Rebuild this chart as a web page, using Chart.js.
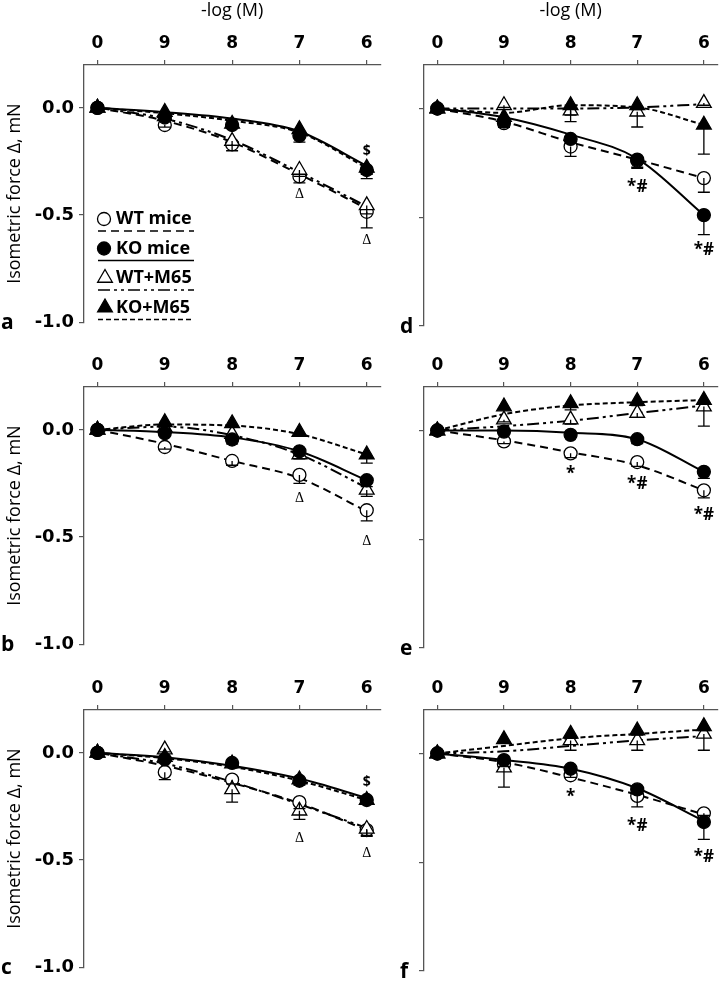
<!DOCTYPE html>
<html>
<head>
<meta charset="utf-8">
<script src="https://cdn.jsdelivr.net/npm/chart.js@4.4.1/dist/chart.umd.min.js"></script>
<style>
  body { margin: 0; background: #fff; width: 727px; height: 981px; position: relative; overflow: hidden; }
  canvas { position: absolute; }
</style>
</head>
<body>
<canvas id="pa" width="390" height="338" style="left:0;top:0"></canvas>
<canvas id="pd" width="337" height="338" style="left:390px;top:0"></canvas>
<canvas id="pb" width="390" height="338" style="left:0;top:322px"></canvas>
<canvas id="pe" width="337" height="338" style="left:390px;top:322px"></canvas>
<canvas id="pc" width="390" height="338" style="left:0;top:645px"></canvas>
<canvas id="pf" width="337" height="338" style="left:390px;top:645px"></canvas>
<script>
// x categories: 0 = baseline, then -log(M) 9..6
const concLabels = ['0', '9', '8', '7', '6'];
const seriesNames = ['WT mice', 'KO mice', 'WT+M65', 'KO+M65'];
const yTicks = [-1.0, -0.5, 0.0];

// panel a  (mean, SEM, fitted curve read at each concentration)
const a_wt      = [0, -0.08, -0.17, -0.32, -0.485];
const a_wt_sem  = [0, 0.01, 0.03, 0.03, 0.075];
const a_wt_fit  = [0, -0.06, -0.16, -0.31, -0.47];
const a_ko      = [0, -0.045, -0.08, -0.13, -0.29];
const a_ko_sem  = [0, 0.01, 0.015, 0.03, 0.04];
const a_ko_fit  = [0, -0.02, -0.05, -0.11, -0.27];
const a_wtm     = [0, -0.04, -0.155, -0.29, -0.455];
const a_wtm_sem = [0, 0.01, 0.02, 0.03, 0.04];
const a_wtm_fit = [0, -0.05, -0.15, -0.30, -0.46];
const a_kom     = [0, -0.02, -0.075, -0.10, -0.28];
const a_kom_sem = [0, 0.01, 0.01, 0.02, 0.03];
const a_kom_fit = [0, -0.025, -0.06, -0.115, -0.28];
const a_marks   = [[4, -0.20, '$'], [3, -0.405, 'Δ'], [4, -0.617, 'Δ']];

// panel b
const b_wt      = [0, -0.08, -0.145, -0.21, -0.375];
const b_wt_sem  = [0, 0.01, 0.02, 0.04, 0.05];
const b_wt_fit  = [0, -0.065, -0.145, -0.225, -0.38];
const b_ko      = [0, -0.015, -0.045, -0.10, -0.235];
const b_ko_sem  = [0, 0.01, 0.02, 0.02, 0.03];
const b_ko_fit  = [0, -0.01, -0.035, -0.10, -0.235];
const b_wtm     = [0, 0.01, -0.02, -0.115, -0.28];
const b_wtm_sem = [0, 0.01, 0.01, 0.02, 0.03];
const b_wtm_fit = [0, 0.015, -0.025, -0.115, -0.27];
const b_kom     = [0, 0.035, 0.03, -0.01, -0.115];
const b_kom_sem = [0, 0.01, 0.01, 0.02, 0.04];
const b_kom_fit = [0, 0.025, 0.02, -0.02, -0.115];
const b_marks   = [[3, -0.32, 'Δ'], [4, -0.52, 'Δ']];

// panel c
const c_wt      = [0, -0.09, -0.125, -0.23, -0.36];
const c_wt_sem  = [0, 0.035, 0.02, 0.03, 0.03];
const c_wt_fit  = [0, -0.06, -0.14, -0.235, -0.36];
const c_ko      = [0, -0.03, -0.047, -0.13, -0.22];
const c_ko_sem  = [0, 0.01, 0.01, 0.02, 0.02];
const c_ko_fit  = [0, -0.02, -0.06, -0.12, -0.21];
const c_wtm     = [0, 0.015, -0.17, -0.27, -0.355];
const c_wtm_sem = [0, 0.01, 0.06, 0.04, 0.03];
const c_wtm_fit = [0, -0.05, -0.135, -0.24, -0.35];
const c_kom     = [0, -0.02, -0.05, -0.125, -0.22];
const c_kom_sem = [0, 0.01, 0.01, 0.02, 0.02];
const c_kom_fit = [0, -0.025, -0.065, -0.13, -0.22];
const c_marks   = [[4, -0.137, '$'], [3, -0.40, 'Δ'], [4, -0.47, 'Δ']];

// panel d
const d_wt      = [0, -0.067, -0.175, -0.24, -0.32];
const d_wt_sem  = [0, 0.02, 0.045, 0.03, 0.065];
const d_wt_fit  = [0, -0.06, -0.155, -0.235, -0.32];
const d_ko      = [0, -0.06, -0.14, -0.235, -0.49];
const d_ko_sem  = [0, 0.02, 0.02, 0.04, 0.09];
const d_ko_fit  = [0, -0.04, -0.12, -0.23, -0.49];
const d_wtm     = [0, 0.015, -0.01, -0.015, 0.025];
const d_wtm_sem = [0, 0.01, 0.02, 0.07, 0.01];
const d_wtm_fit = [0, 0.0, 0.0, 0.005, 0.02];
const d_kom     = [0, -0.04, 0.015, 0.015, -0.075];
const d_kom_sem = [0, 0.01, 0.075, 0.02, 0.135];
const d_kom_fit = [0, -0.02, 0.015, 0.005, -0.075];
const d_marks   = [[3, -0.36, '*#'], [4, -0.65, '*#']];

// panel e
const e_wt      = [0, -0.05, -0.105, -0.145, -0.275];
const e_wt_sem  = [0, 0.01, 0.02, 0.02, 0.035];
const e_wt_fit  = [0, -0.045, -0.10, -0.16, -0.275];
const e_ko      = [0, -0.005, -0.02, -0.04, -0.19];
const e_ko_sem  = [0, 0.01, 0.01, 0.02, 0.03];
const e_ko_fit  = [0, 0.0, -0.01, -0.04, -0.19];
const e_wtm     = [0, 0.05, 0.05, 0.08, 0.11];
const e_wtm_sem = [0, 0.01, 0.02, 0.02, 0.09];
const e_wtm_fit = [0, 0.02, 0.045, 0.08, 0.115];
const e_kom     = [0, 0.11, 0.125, 0.135, 0.14];
const e_kom_sem = [0, 0.01, 0.03, 0.02, 0.02];
const e_kom_fit = [0, 0.075, 0.115, 0.13, 0.14];
const e_marks   = [[2, -0.20, '*'], [3, -0.245, '*#'], [4, -0.39, '*#']];

// panel f
const f_wt      = [0, -0.05, -0.10, -0.195, -0.275];
const f_wt_sem  = [0, 0.01, 0.01, 0.05, 0.01];
const f_wt_fit  = [0, -0.04, -0.11, -0.19, -0.28];
const f_ko      = [0, -0.03, -0.07, -0.165, -0.315];
const f_ko_sem  = [0, 0.01, 0.01, 0.02, 0.08];
const f_ko_fit  = [0, -0.03, -0.07, -0.16, -0.31];
const f_wtm     = [0, -0.065, 0.06, 0.06, 0.09];
const f_wtm_sem = [0, 0.09, 0.045, 0.045, 0.075];
const f_wtm_fit = [0, 0.01, 0.035, 0.06, 0.08];
const f_kom     = [0, 0.065, 0.09, 0.105, 0.125];
const f_kom_sem = [0, 0.01, 0.02, 0.02, 0.02];
const f_kom_fit = [0, 0.035, 0.07, 0.09, 0.11];
const f_marks   = [[2, -0.20, '*'], [3, -0.335, '*#'], [4, -0.475, '*#']];

// one entry per series: line dash, marker shape, marker fill
const STYLE = [
  { dash: [8, 5], point: 'circle', radius: 6.5, fill: '#fff' },
  { dash: [], point: 'circle', radius: 6.5, fill: '#000' },
  { dash: [12, 4, 3, 4, 3, 4], point: 'triangle', radius: 8.5, fill: '#fff' },
  { dash: [5, 3], point: 'triangle', radius: 8.5, fill: '#000' }
];
const POINT_ORDER = [4, 1, 3, 2];
const AXIS_COLOR = '#555';
const MARK_FONT = {
  '$': 'bold 14px "Open Sans"',
  'Δ': '14px "Liberation Serif"',
  '*': 'bold 17px "Open Sans"',
  '*#': 'bold 17px "Open Sans"'
};

const toXY = arr => arr.map((v, k) => ({ x: k, y: v }));

function buildDatasets(series) {
  const out = [];
  series.forEach((s, i) => {
    const st = STYLE[i];
    out.push({
      label: seriesNames[i] + ' fit',
      data: toXY(s[2]),
      borderColor: '#000',
      borderWidth: 2,
      borderDash: st.dash,
      pointRadius: 0,
      cubicInterpolationMode: 'monotone',
      fill: false,
      order: 10
    });
    out.push({
      label: seriesNames[i],
      data: toXY(s[0]),
      sem: s[1],
      showLine: false,
      pointStyle: st.point,
      pointRadius: st.radius,
      pointBackgroundColor: st.fill,
      pointBorderColor: '#000',
      pointBorderWidth: 1.3,
      order: POINT_ORDER[i]
    });
  });
  return out;
}

// error bars, significance marks, panel letter and the legend
const extras = {
  id: 'extras',
  afterDatasetsDraw(chart, args, o) {
    const { ctx, chartArea } = chart;
    const x = chart.scales.x, y = chart.scales.y;
    ctx.save();

    ctx.strokeStyle = '#000';
    ctx.lineWidth = 1.3;
    ctx.setLineDash([]);
    chart.data.datasets.forEach(ds => {
      if (!ds.sem) return;
      ds.data.forEach((p, k) => {
        const e = ds.sem[k];
        if (!e) return;
        const px = x.getPixelForValue(p.x);
        const y0 = y.getPixelForValue(p.y);
        const y1 = y.getPixelForValue(p.y - e);
        ctx.beginPath();
        ctx.moveTo(px, y0); ctx.lineTo(px, y1);
        ctx.moveTo(px - 6, y1); ctx.lineTo(px + 6, y1);
        ctx.stroke();
      });
    });

    ctx.fillStyle = '#000';
    ctx.textAlign = 'center';
    ctx.textBaseline = 'middle';
    (o.marks || []).forEach(([k, v, t]) => {
      ctx.font = MARK_FONT[t];
      ctx.fillText(t, x.getPixelForValue(k), y.getPixelForValue(v));
    });

    ctx.font = 'bold 21px "Open Sans"';
    ctx.textAlign = 'left';
    ctx.textBaseline = 'alphabetic';
    ctx.fillText(o.letter, o.letterX, chartArea.bottom + 7);

    if (o.legend) {
      ctx.textBaseline = 'middle';
      ctx.font = 'bold 18px "Open Sans"';
      seriesNames.forEach((name, i) => {
        const st = STYLE[i];
        const cy = 219 + i * 29.5;
        ctx.fillStyle = st.fill;
        ctx.strokeStyle = '#000';
        ctx.lineWidth = 1.3;
        Chart.helpers.drawPoint(ctx, { pointStyle: st.point, radius: st.radius, borderWidth: 1.3 }, st.point === 'circle' ? 104 : 105, cy);
        ctx.fillStyle = '#000';
        ctx.fillText(name, 116, cy);
        ctx.lineWidth = 1.6;
        ctx.setLineDash(st.dash);
        ctx.beginPath();
        ctx.moveTo(98, cy + 12); ctx.lineTo(194, cy + 12);
        ctx.stroke();
        ctx.setLineDash([]);
      });
    }
    ctx.restore();
  }
};

function makePanel(id, series, marks, letter, col, row) {
  const isLeft = col === 0;
  return new Chart(document.getElementById(id), {
    type: 'line',
    data: { datasets: buildDatasets(series) },
    options: {
      responsive: false,
      animation: false,
      layout: { padding: { left: 0, top: 0, right: isLeft ? 6 : 3, bottom: 12 } },
      plugins: {
        legend: { display: false },
        tooltip: { enabled: false },
        extras: { marks: marks, letter: letter, letterX: isLeft ? 1 : 10, legend: id === 'pa' }
      },
      scales: {
        x: {
          type: 'linear',
          position: 'top',
          min: -0.2,
          max: 4.2,
          afterBuildTicks: s => { s.ticks = concLabels.map((_, k) => ({ value: k })); },
          afterFit: s => { s.height = 65; },
          ticks: {
            callback: (v, k) => concLabels[k],
            font: { family: 'DejaVu Sans', weight: 'bold', size: 17 },
            color: '#000',
            padding: 6,
            maxRotation: 0,
            autoSkip: false
          },
          grid: { drawOnChartArea: false, tickLength: 5, color: AXIS_COLOR, lineWidth: 1.2 },
          border: { color: AXIS_COLOR, width: 1.3 },
          title: {
            display: row === 0,
            text: '-log (M)',
            font: { family: 'Open Sans', size: 18 },
            color: '#000',
            padding: { top: 0, bottom: 0 }
          }
        },
        y: {
          min: -1.0,
          max: 0.2,
          afterBuildTicks: s => { s.ticks = yTicks.map(v => ({ value: v })); },
          afterFit: s => { s.width = isLeft ? 84 : 34; },
          ticks: {
            display: isLeft,
            callback: v => v.toFixed(1),
            font: { family: 'DejaVu Sans', weight: 'bold', size: 18 },
            color: '#000',
            padding: 5
          },
          grid: { drawOnChartArea: false, tickLength: 5, color: AXIS_COLOR, lineWidth: 1.2 },
          border: { color: AXIS_COLOR, width: 1.3 },
          title: {
            display: isLeft,
            text: 'Isometric force Δ, mN',
            font: { family: 'Open Sans', size: 18 },
            color: '#000',
            padding: { top: 4, bottom: 0 }
          }
        }
      }
    },
    plugins: [extras]
  });
}

makePanel('pa', [[a_wt, a_wt_sem, a_wt_fit], [a_ko, a_ko_sem, a_ko_fit], [a_wtm, a_wtm_sem, a_wtm_fit], [a_kom, a_kom_sem, a_kom_fit]], a_marks, 'a', 0, 0);
makePanel('pb', [[b_wt, b_wt_sem, b_wt_fit], [b_ko, b_ko_sem, b_ko_fit], [b_wtm, b_wtm_sem, b_wtm_fit], [b_kom, b_kom_sem, b_kom_fit]], b_marks, 'b', 0, 1);
makePanel('pc', [[c_wt, c_wt_sem, c_wt_fit], [c_ko, c_ko_sem, c_ko_fit], [c_wtm, c_wtm_sem, c_wtm_fit], [c_kom, c_kom_sem, c_kom_fit]], c_marks, 'c', 0, 2);
makePanel('pd', [[d_wt, d_wt_sem, d_wt_fit], [d_ko, d_ko_sem, d_ko_fit], [d_wtm, d_wtm_sem, d_wtm_fit], [d_kom, d_kom_sem, d_kom_fit]], d_marks, 'd', 1, 0);
makePanel('pe', [[e_wt, e_wt_sem, e_wt_fit], [e_ko, e_ko_sem, e_ko_fit], [e_wtm, e_wtm_sem, e_wtm_fit], [e_kom, e_kom_sem, e_kom_fit]], e_marks, 'e', 1, 1);
makePanel('pf', [[f_wt, f_wt_sem, f_wt_fit], [f_ko, f_ko_sem, f_ko_fit], [f_wtm, f_wtm_sem, f_wtm_fit], [f_kom, f_kom_sem, f_kom_fit]], f_marks, 'f', 1, 2);
</script>
</body>
</html>
